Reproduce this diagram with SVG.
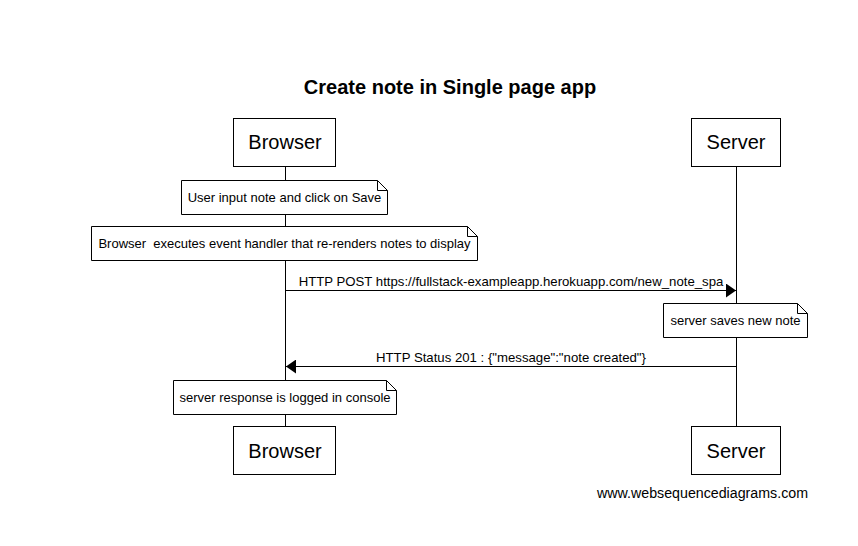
<svg xmlns="http://www.w3.org/2000/svg" width="858" height="546" viewBox="0 0 858 546">
<style>
text{font-family:"Liberation Sans",Arial,sans-serif;fill:#000}
.box{fill:#fff;stroke:#000;stroke-width:1}
.pt{font-size:20px;text-anchor:middle}
.nt{font-size:13px;text-anchor:middle}
.lb{font-size:13.2px;text-anchor:middle}
.life{stroke:#000;stroke-width:1;fill:none}
.note{fill:#fff;stroke:#000;stroke-width:1}
.msg{stroke:#000;stroke-width:1;fill:none}
</style>
<defs>
<marker id="ah" markerWidth="10" markerHeight="14" refX="10" refY="7" orient="auto" markerUnits="userSpaceOnUse">
<path d="M0,0 L10,7 L0,14 Z" fill="#000"/>
</marker>
</defs>
<rect width="858" height="546" fill="#fff"/>
<text x="450" y="94" font-size="20" font-weight="bold" text-anchor="middle">Create note in Single page app</text>
<g id="lifelines">
<line class="life" x1="285.5" y1="166" x2="285.5" y2="426"/>
<line class="life" x1="736.5" y1="166" x2="736.5" y2="426"/>
</g>
<g id="participant-browser-top">
<rect class="box" x="233.5" y="118.5" width="102" height="48"/>
<text class="pt" x="285" y="149">Browser</text>
</g>
<g id="participant-server-top">
<rect class="box" x="691.5" y="118.5" width="89" height="48"/>
<text class="pt" x="736" y="149">Server</text>
</g>
<g id="note1">
<path class="note" d="M181.5,180.5 H377.5 L387.5,190.5 V214.5 H181.5 Z M377.5,180.5 V190.5 H387.5"/>
<text class="nt" x="284.5" y="202">User input note and click on Save</text>
</g>
<g id="note2">
<path class="note" d="M91.5,226.5 H467.5 L477.5,236.5 V260.5 H91.5 Z M467.5,226.5 V236.5 H477.5"/>
<text class="nt" x="284.5" y="248" xml:space="preserve">Browser  executes event handler that re-renders notes to display</text>
</g>
<g id="connectors">
<line class="msg" x1="285.5" y1="290.5" x2="736" y2="290.5" marker-end="url(#ah)"/>
<text class="lb" x="511" y="286">HTTP POST https://fullstack-exampleapp.herokuapp.com/new_note_spa</text>
<line class="msg" x1="736.5" y1="366.5" x2="286" y2="366.5" marker-end="url(#ah)"/>
<text class="lb" x="511" y="362">HTTP Status 201 : {"message":"note created"}</text>
</g>
<g id="note3">
<path class="note" d="M663.5,303.5 H797.5 L807.5,313.5 V337.5 H663.5 Z M797.5,303.5 V313.5 H807.5"/>
<text class="nt" x="735.5" y="325">server saves new note</text>
</g>
<g id="note4">
<path class="note" d="M173.5,380.5 H386.5 L396.5,390.5 V414.5 H173.5 Z M386.5,380.5 V390.5 H396.5"/>
<text class="nt" x="285" y="402">server response is logged in console</text>
</g>
<g id="participant-browser-bottom">
<rect class="box" x="233.5" y="426.5" width="102" height="48"/>
<text class="pt" x="285" y="458">Browser</text>
</g>
<g id="participant-server-bottom">
<rect class="box" x="691.5" y="426.5" width="89" height="48"/>
<text class="pt" x="736" y="458">Server</text>
</g>
<text x="597" y="498" font-size="14" textLength="211" lengthAdjust="spacingAndGlyphs">www.websequencediagrams.com</text>
</svg>
